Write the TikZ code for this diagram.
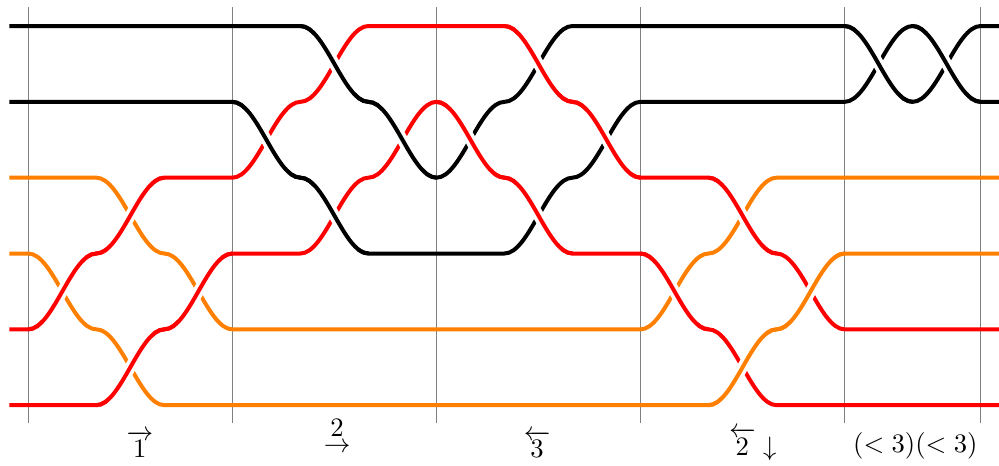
\documentclass[tikz,border=0pt]{standalone}
\usepackage{amsmath,amssymb}
\usepackage{xcolor}
\usepackage{tikz}

\tikzset{
  strand/.style={line width=1.5pt},
  overpass/.style={preaction={draw=white, line width=4.2pt, shorten <=7pt, shorten >=7pt}},
  wall/.style={gray, line width=0.4pt}
}

\begin{document}
\begin{tikzpicture}[x=0.897cm, y=1cm]
  \useasboundingbox (-0.416,-0.79) rectangle (14.27,5.343);
  \draw[wall] (0,-0.24) -- (0,5.25);
  \draw[wall] (3,-0.24) -- (3,5.25);
  \draw[wall] (6,-0.24) -- (6,5.25);
  \draw[wall] (9,-0.24) -- (9,5.25);
  \draw[wall] (12,-0.24) -- (12,5.25);
  \draw[wall] (14,-0.24) -- (14,5.25);
  \draw[strand, black] (-0.28,5) -- (4,5) cos (4.5,4.5) sin (5,4) cos (5.5,3.5) sin (6,3) cos (6.5,3.5) sin (7,4) cos (7.5,4.5) sin (8,5) -- (12,5) cos (12.5,4.5) sin (13,4) cos (13.5,4.5) sin (14,5) -- (14.3,5);
  \draw[strand, black] (-0.28,4) -- (3,4) cos (3.5,3.5) sin (4,3) cos (4.5,2.5) sin (5,2) -- (7,2) cos (7.5,2.5) sin (8,3) cos (8.5,3.5) sin (9,4) -- (12,4) cos (12.5,4.5) sin (13,5) cos (13.5,4.5) sin (14,4) -- (14.3,4);
  \draw[strand, orange] (-0.28,3) -- (1,3) cos (1.5,2.5) sin (2,2) cos (2.5,1.5) sin (3,1) -- (9,1) cos (9.5,1.5) sin (10,2) cos (10.5,2.5) sin (11,3) -- (14.3,3);
  \draw[strand, orange] (-0.28,2) -- (0,2) cos (0.5,1.5) sin (1,1) cos (1.5,0.5) sin (2,0) -- (10,0) cos (10.5,0.5) sin (11,1) cos (11.5,1.5) sin (12,2) -- (14.3,2);
  \draw[strand, red] (-0.28,1) -- (0,1) cos (0.5,1.5) sin (1,2) cos (1.5,2.5) sin (2,3) -- (3,3) cos (3.5,3.5) sin (4,4) cos (4.5,4.5) sin (5,5) -- (7,5) cos (7.5,4.5) sin (8,4) cos (8.5,3.5) sin (9,3) -- (10,3) cos (10.5,2.5) sin (11,2) cos (11.5,1.5) sin (12,1) -- (14.3,1);
  \draw[strand, red] (-0.28,0) -- (1,0) cos (1.5,0.5) sin (2,1) cos (2.5,1.5) sin (3,2) -- (4,2) cos (4.5,2.5) sin (5,3) cos (5.5,3.5) sin (6,4) cos (6.5,3.5) sin (7,3) cos (7.5,2.5) sin (8,2) -- (9,2) cos (9.5,1.5) sin (10,1) cos (10.5,0.5) sin (11,0) -- (14.3,0);
  \draw[strand, red, overpass] (0,1) cos (0.5,1.5) sin (1,2);
  \draw[strand, red, overpass] (1,2) cos (1.5,2.5) sin (2,3);
  \draw[strand, red, overpass] (1,0) cos (1.5,0.5) sin (2,1);
  \draw[strand, red, overpass] (2,1) cos (2.5,1.5) sin (3,2);
  \draw[strand, black, overpass] (3,4) cos (3.5,3.5) sin (4,3);
  \draw[strand, black, overpass] (4,5) cos (4.5,4.5) sin (5,4);
  \draw[strand, black, overpass] (4,3) cos (4.5,2.5) sin (5,2);
  \draw[strand, black, overpass] (5,4) cos (5.5,3.5) sin (6,3);
  \draw[strand, red, overpass] (6,4) cos (6.5,3.5) sin (7,3);
  \draw[strand, red, overpass] (7,5) cos (7.5,4.5) sin (8,4);
  \draw[strand, red, overpass] (7,3) cos (7.5,2.5) sin (8,2);
  \draw[strand, red, overpass] (8,4) cos (8.5,3.5) sin (9,3);
  \draw[strand, red, overpass] (9,2) cos (9.5,1.5) sin (10,1);
  \draw[strand, red, overpass] (10,3) cos (10.5,2.5) sin (11,2);
  \draw[strand, orange, overpass] (10,0) cos (10.5,0.5) sin (11,1);
  \draw[strand, orange, overpass] (11,1) cos (11.5,1.5) sin (12,2);
  \draw[strand, black, overpass] (12,5) cos (12.5,4.5) sin (13,4);
  \draw[strand, black, overpass] (13,5) cos (13.5,4.5) sin (14,4);
  \node (lab1) at (1.64,-0.515) {$\overrightarrow{1}$};
  \node (lab2) at (4.54,-0.42) {$\underset{\textstyle\rightarrow}{2}$};
  \node (lab3) at (7.48,-0.515) {$\overleftarrow{3}$};
  \node (lab4) at (10.65,-0.515) {$\overleftarrow{2}\downarrow$};
  \node (lab5) at (13.04,-0.54) {$(<3)(<3)$};
\end{tikzpicture}
\end{document}
